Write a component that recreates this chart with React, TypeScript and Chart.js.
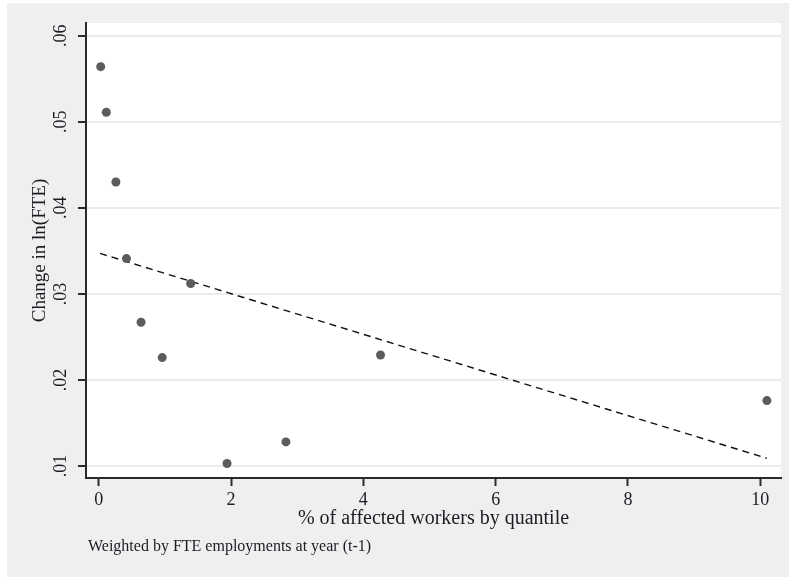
import React, { useEffect, useRef } from "react";
import { Chart, registerables } from "chart.js";

Chart.register(...registerables);

// ---- data ----
const xValues = [0.03, 0.115, 0.26, 0.42, 0.64, 0.96, 1.39, 1.94, 2.83, 4.26, 10.1];
const yValues = [0.0564, 0.0511, 0.043, 0.0341, 0.0267, 0.0226, 0.0312, 0.0103, 0.0128, 0.0229, 0.0176];
const fitX = [0.02, 10.1];
const fitY = [0.0347, 0.0109];
const xTickValues = [0, 2, 4, 6, 8, 10];
const xTickLabels = ["0", "2", "4", "6", "8", "10"];
const yTickValues = [0.01, 0.02, 0.03, 0.04, 0.05, 0.06];
const yTickLabels = [".01", ".02", ".03", ".04", ".05", ".06"];
const xTitle = "% of affected workers by quantile";
const yTitle = "Change in ln(FTE)";
const noteText = "Weighted by FTE employments at year (t-1)";

const FONT = "'Liberation Serif', 'Times New Roman', serif";
const TEXT = "#1c1c24";
const AXIS = "#2a2a2a";

const bgPlugin = {
  id: "stataBg",
  beforeDraw(chart: any) {
    const { ctx, width, height, chartArea } = chart;
    ctx.save();
    ctx.fillStyle = "#ffffff";
    ctx.fillRect(0, 0, width, height);
    ctx.fillStyle = "#efefef";
    ctx.fillRect(7, 3, width - 7, height - 4);
    ctx.fillStyle = "#ffffff";
    ctx.fillRect(chartArea.left, chartArea.top, chartArea.right - chartArea.left, chartArea.bottom - chartArea.top);
    ctx.restore();
  },
  afterDraw(chart: any) {
    const { ctx } = chart;
    ctx.save();
    ctx.font = `16px ${FONT}`;
    ctx.fillStyle = TEXT;
    ctx.textAlign = "left";
    ctx.textBaseline = "alphabetic";
    ctx.fillText(noteText, 88, 551);
    ctx.restore();
  },
};

export default function App() {
  const ref = useRef<HTMLCanvasElement | null>(null);

  useEffect(() => {
    if (!ref.current) return;
    const chart = new Chart(ref.current, {
      type: "scatter",
      data: {
        datasets: [
          {
            type: "scatter",
            data: xValues.map((x, i) => ({ x, y: yValues[i] })),
            pointRadius: 4.5,
            pointBackgroundColor: "#5c5c5c",
            pointBorderWidth: 0,
            order: 0,
          } as any,
          {
            type: "line",
            data: fitX.map((x, i) => ({ x, y: fitY[i] })),
            borderColor: "#111111",
            borderWidth: 1.4,
            borderDash: [7, 5],
            pointRadius: 0,
            fill: false,
            order: 1,
          } as any,
        ],
      },
      options: {
        responsive: false,
        animation: false,
        layout: { padding: { top: 23, right: 8, left: 0, bottom: 0 } },
        plugins: {
          legend: { display: false },
          tooltip: { enabled: false },
        },
        scales: {
          x: {
            type: "linear",
            min: -0.192,
            max: 10.313,
            afterBuildTicks: (s: any) => {
              s.ticks = xTickValues.map((v) => ({ value: v }));
            },
            afterFit: (s: any) => {
              s.height = 100;
            },
            ticks: {
              autoSkip: false,
              maxRotation: 0,
              padding: 3.7,
              color: TEXT,
              font: { family: FONT, size: 18 },
              callback: (_v: any, i: number) => xTickLabels[i],
            },
            grid: {
              drawOnChartArea: false,
              tickLength: 8,
              tickColor: AXIS,
              tickWidth: 2,
            },
            border: { color: AXIS, width: 2 },
            title: {
              display: true,
              text: xTitle,
              color: TEXT,
              font: { family: FONT, size: 20 },
              padding: { top: 0, bottom: 47.5 },
            },
          },
          y: {
            type: "linear",
            min: 0.00861,
            max: 0.06147,
            afterBuildTicks: (s: any) => {
              s.ticks = yTickValues.map((v) => ({ value: v }));
            },
            afterFit: (s: any) => {
              s.width = 86;
            },
            ticks: {
              autoSkip: false,
              minRotation: 90,
              maxRotation: 90,
              crossAlign: "center",
              padding: 5.5,
              color: TEXT,
              font: { family: FONT, size: 18 },
              callback: (_v: any, i: number) => yTickLabels[i],
            },
            grid: {
              color: "#ebebeb",
              lineWidth: 2,
              tickLength: 8,
              tickColor: AXIS,
              tickWidth: 2,
            },
            border: { color: AXIS, width: 2 },
            title: {
              display: true,
              text: yTitle,
              color: TEXT,
              font: { family: FONT, size: 19 },
              padding: { top: 28.6, bottom: 0 },
            },
          },
        },
      } as any,
      plugins: [bgPlugin],
    });
    return () => chart.destroy();
  }, []);

  return (
    <div style={{ position: "absolute", left: 0, top: 0, width: 789, height: 578 }}>
      <canvas ref={ref} width={789} height={578} style={{ display: "block", width: 789, height: 578 }} />
    </div>
  );
}
